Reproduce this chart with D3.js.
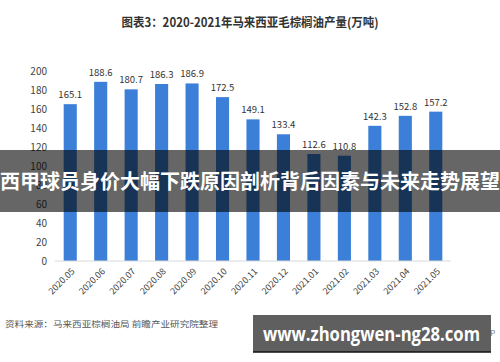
<!DOCTYPE html>
<html><head><meta charset="utf-8">
<script src="https://cdn.jsdelivr.net/npm/d3@7"></script>
<style>
html,body{margin:0;padding:0;background:#fff;}
svg{display:block;}
</style></head>
<body>
<script>
const months = ["2020.05","2020.06","2020.07","2020.08","2020.09","2020.10","2020.11","2020.12","2021.01","2021.02","2021.03","2021.04","2021.05"];
const production = [165.1,188.6,180.7,186.3,186.9,172.5,149.1,133.4,112.6,110.8,142.3,152.8,157.2];
const yTicks = [0,20,40,60,80,100,120,140,160,180,200];
const titleText = "图表3：2020-2021年马来西亚毛棕榈油产量(万吨)";
const bannerText = "西甲球员身价大幅下跌原因剖析背后因素与未来走势展望";
const sourceText = "资料来源：马来西亚棕榈油局 前瞻产业研究院整理";
const siteText = "www.zhongwen-ng28.com";

const W = 500, H = 362;
const svg = d3.select("body").append("svg").attr("width", W).attr("height", H);
const font = "'Microsoft YaHei','Noto Sans CJK SC','Noto Sans',sans-serif";

const x = d3.scaleBand().domain(months).range([55, 451]).paddingInner(0.57).paddingOuter(0.285);
const y = d3.scaleLinear().domain([0, 200]).range([261, 71]);

// title
svg.append("text").attr("x", 250).attr("y", 27).attr("text-anchor", "middle")
  .attr("font-family", font).attr("font-size", 12.5).attr("font-weight", "bold")
  .attr("fill", "#333").attr("textLength", 257).attr("lengthAdjust", "spacingAndGlyphs")
  .text(titleText);

// y axis labels
const yAxis = d3.axisLeft(y).tickValues(yTicks).tickSize(0).tickPadding(0);
const gy = svg.append("g").attr("transform", "translate(47,0)").call(yAxis);
gy.select(".domain").remove();
gy.selectAll("text").attr("font-family", font).attr("font-size", 10).attr("fill", "#444");

// bars
svg.append("g").selectAll("rect").data(production).join("rect")
  .attr("x", (d, i) => x(months[i]))
  .attr("width", x.bandwidth())
  .attr("y", d => y(d))
  .attr("height", d => y(0) - y(d))
  .attr("fill", "#3b7fd8");

// value labels
svg.append("g").selectAll("text").data(production).join("text")
  .attr("x", (d, i) => x(months[i]) + x.bandwidth() / 2)
  .attr("y", d => y(d) - 6)
  .attr("text-anchor", "middle")
  .attr("font-family", font).attr("font-size", 9.5).attr("fill", "#333")
  .text(d => d.toFixed(1));

// x axis
const xAxis = d3.axisBottom(x).tickSize(0).tickPadding(0);
const gx = svg.append("g").attr("transform", `translate(0,${y(0)})`).call(xAxis);
gx.select(".domain").attr("stroke", "#d9d9d9").attr("d", "M55,0H451");
gx.selectAll("text")
  .attr("font-family", font).attr("font-size", 9).attr("fill", "#444")
  .attr("text-anchor", "end")
  .attr("dy", null).attr("y", 0)
  .attr("transform", "translate(5,11) rotate(-45)");

// banner overlay
svg.append("rect").attr("x", 0).attr("y", 150).attr("width", W).attr("height", 62)
  .attr("fill", "#000").attr("fill-opacity", 0.6);
svg.append("text").attr("x", 250).attr("y", 189).attr("text-anchor", "middle")
  .attr("font-family", font).attr("font-size", 20).attr("font-weight", "bold")
  .attr("fill", "#fff").attr("textLength", 500).attr("lengthAdjust", "spacingAndGlyphs")
  .text(bannerText);

// source
svg.append("text").attr("x", 5).attr("y", 327)
  .attr("font-family", font).attr("font-size", 8.5).attr("fill", "#555")
  .attr("textLength", 213).attr("lengthAdjust", "spacingAndGlyphs")
  .text(sourceText);

// site box
svg.append("text").attr("x", 478).attr("y", 336)
  .attr("font-family", font).attr("font-size", 8).attr("fill", "#777").text(".APP");
svg.append("rect").attr("x", 253).attr("y", 315).attr("width", 238).attr("height", 37)
  .attr("fill", "#5f5f5f");
svg.append("line").attr("x1", 253).attr("x2", 491).attr("y1", 352).attr("y2", 352)
  .attr("stroke", "#111").attr("stroke-width", 1.5);
svg.append("text").attr("x", 263).attr("y", 341)
  .attr("font-family", "'Open Sans',sans-serif").attr("font-size", 19).attr("font-weight", "bold")
  .attr("fill", "#fff").attr("textLength", 217).attr("lengthAdjust", "spacingAndGlyphs")
  .text(siteText);
</script>
</body></html>
